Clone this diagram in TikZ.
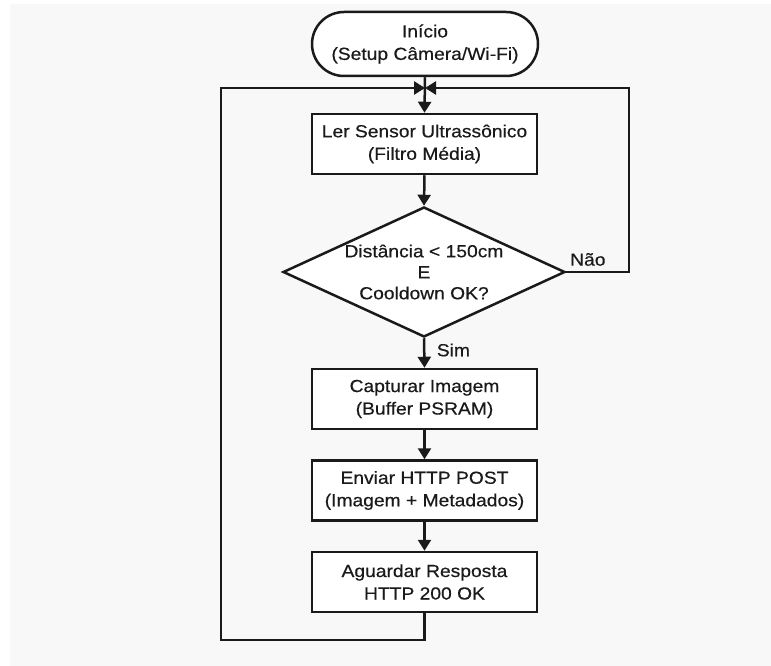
\documentclass[tikz,border=0pt]{standalone}
\usepackage{fontspec}
\setmainfont{Liberation Sans}[FakeStretch=1.1, FakeBold=0.4]
\usetikzlibrary{shapes.geometric,shapes.misc,arrows.meta}
\definecolor{ink}{HTML}{1A1A1A}
\definecolor{paper}{HTML}{F8F8F8}
\begin{document}
\begin{tikzpicture}[x=1pt,y=-1pt,
  every node/.style={font=\fontsize{17.5}{22.5}\selectfont, text=ink, align=center},
  flowline/.style={draw=ink, line width=2.5pt},
  conn/.style={flowline, -{Triangle[length=11pt,width=13pt]}},
  procbox/.style={draw=ink, line width=2.5pt, fill=white, rectangle,
    minimum width=225pt, minimum height=60pt, inner sep=0pt},
  termbox/.style={draw=ink, line width=2.5pt, fill=white, rounded rectangle,
    minimum width=226pt, minimum height=64pt, inner sep=0pt},
  decbox/.style={draw=ink, line width=2.5pt, fill=white, diamond, aspect=2.17,
    minimum width=282pt, minimum height=130pt, inner sep=0pt,
    font=\fontsize{17.5}{21}\selectfont}
]
% canvas
\useasboundingbox (0,0) rectangle (771,666);
\fill[white] (0,0) rectangle (771,666);
\fill[paper] (10,4) rectangle (771,666);

% blocks
\node[termbox] (start) at (425,44) {Início\\(Setup Câmera/Wi-Fi)};
\node[procbox] (read) at (424.5,144) {Ler Sensor Ultrassônico\\(Filtro Média)};
\node[decbox]  (dec)  at (424,272) {Distância < 150cm\\E\\Cooldown OK?};
\node[procbox] (cap)  at (424.5,399) {Capturar Imagem\\(Buffer PSRAM)};
\node[procbox] (send) at (424.5,490.5) {Enviar HTTP POST\\(Imagem + Metadados)};
\node[procbox] (wait) at (424.5,582) {Aguardar Resposta\\HTTP 200 OK};

% loop return points
\coordinate (join) at (425,88);
\coordinate (bl) at (221,640);
\coordinate (tl) at (221,88);
\coordinate (tr) at (629,88);

% main flow
\draw[conn] (start.south) -- (read.north);
\draw[conn] (read.south) -- (dec.north);
\draw[conn] (dec.south) -- node[right, xshift=8pt, yshift=3pt] (sim) {Sim} (cap.north);
\draw[conn] (cap.south) -- (send.north);
\draw[conn] (send.south) -- (wait.north);

% loop back after the response
\draw[conn] (wait.south) |- (bl) -- (tl) -- (join);

% "Não" branch back to the sensor read
\draw[conn] (dec.east) -| (tr) -- (join);
\node[anchor=south west, inner sep=0pt] (nao) at (570,266) {Não};
\end{tikzpicture}
\end{document}
